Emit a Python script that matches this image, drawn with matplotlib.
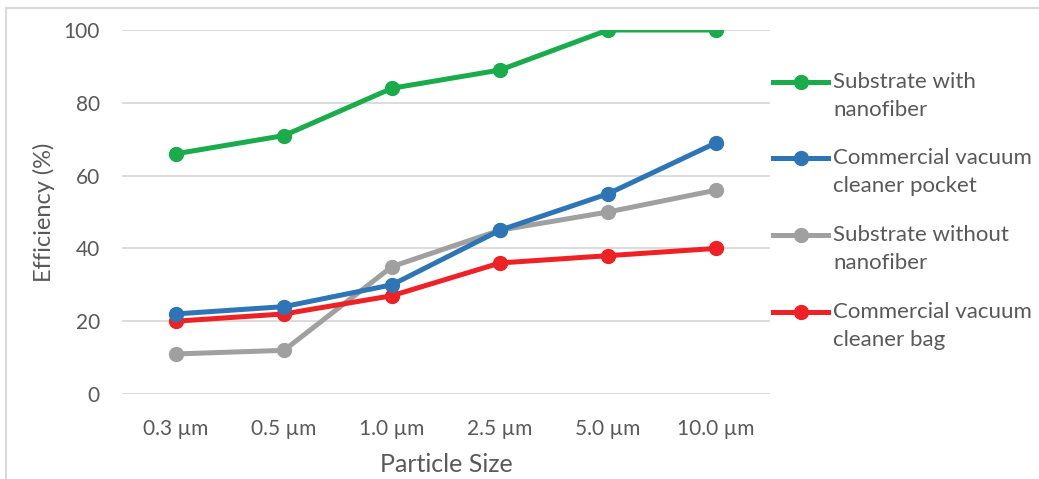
import matplotlib.pyplot as plt
from matplotlib.lines import Line2D

plt.rcParams['font.family'] = ['Lato', 'DejaVu Sans']

sizes = ['0.3 µm', '0.5 µm', '1.0 µm', '2.5 µm', '5.0 µm', '10.0 µm']

with_nanofiber = [66, 71, 84, 89, 100, 100]
vacuum_pocket = [22, 24, 30, 45, 55, 69]
without_nanofiber = [11, 12, 35, 45, 50, 56]
vacuum_bag = [20, 22, 27, 36, 38, 40]

series = [
    (['Substrate with', 'nanofiber'], with_nanofiber, '#1aab4b'),
    (['Commercial vacuum', 'cleaner pocket'], vacuum_pocket, '#2e75b6'),
    (['Substrate without', 'nanofiber'], without_nanofiber, '#a0a0a0'),
    (['Commercial vacuum', 'cleaner bag'], vacuum_bag, '#ee2124'),
]

text_color = '#595959'
grid_color = '#d9d9d9'
W, H = 1039, 479

fig = plt.figure(figsize=(W / 100, H / 100), dpi=100)
ax = fig.add_axes([122 / W, 85 / H, 648 / W, 364 / H])

x = list(range(len(sizes)))
# gray first so the colored lines sit on top where they cross
for label, values, color in [series[2], series[3], series[1], series[0]]:
    ax.plot(x, values, color=color, lw=3.6, marker='o', markersize=10,
            solid_capstyle='round', zorder=3)

ax.set_xlim(-0.5, len(sizes) - 0.5)
ax.set_ylim(0, 100)
ax.set_yticks(range(0, 101, 20))
ax.set_xticks(x)
ax.set_xticklabels(sizes)
ax.yaxis.grid(True, color=grid_color, lw=1.3)
ax.set_axisbelow(True)
for s in ['top', 'right', 'left', 'bottom']:
    ax.spines[s].set_visible(False)
ax.tick_params(length=0, labelsize=15, colors=text_color)
ax.tick_params(axis='y', pad=16)
ax.tick_params(axis='x', pad=18)
ax.set_xlabel('Particle Size', fontsize=18, color=text_color, labelpad=10)
ax.set_ylabel('Efficiency (%)', fontsize=17, color=text_color, labelpad=6)

# legend drawn by hand: marker lines up with the first text line
legend_y = [82, 158, 235, 312]
for (lines, _, color), y in zip(series, legend_y):
    fy = 1 - y / H
    fig.add_artist(Line2D([773 / W, 828 / W], [fy, fy], color=color, lw=3.6))
    fig.add_artist(Line2D([800.5 / W], [fy], color=color, marker='o', markersize=10))
    for i, line in enumerate(lines):
        fig.text(833 / W, 1 - (y + 28 * i) / H, line, fontsize=16,
                 color=text_color, va='center', ha='left')

# chart frame
fig.add_artist(Line2D([6 / W, 1], [1 - 8 / H, 1 - 8 / H], color=grid_color, lw=1.5))
fig.add_artist(Line2D([6 / W, 6 / W], [0, 1 - 8 / H], color=grid_color, lw=1.5))

fig.savefig('out.png', dpi=100)
